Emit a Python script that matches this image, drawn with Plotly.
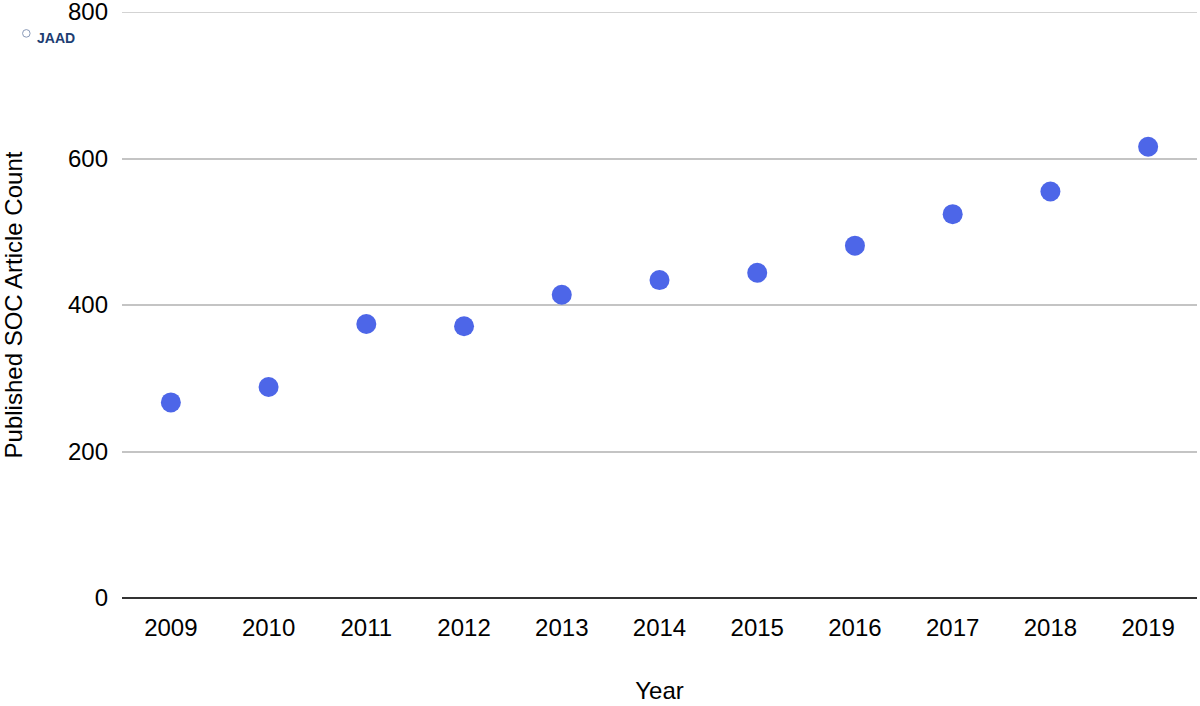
import plotly.graph_objects as go

years = ["2009", "2010", "2011", "2012", "2013", "2014", "2015", "2016", "2017", "2018", "2019"]
counts = [267, 288, 374, 371, 414, 434, 444, 481, 524, 555, 616]
y_ticks = [0, 200, 400, 600, 800]

fig = go.Figure()
fig.add_trace(go.Scatter(
    x=years, y=counts, mode="markers",
    marker=dict(size=20, color="#4d66e8", line=dict(width=0)),
    showlegend=False, cliponaxis=False,
))

font_family = "Liberation Sans, Arial, sans-serif"
grid_color = "#c4c4c4"
fig.update_layout(
    width=1200, height=706,
    margin=dict(l=122, r=3, t=12, b=108),
    plot_bgcolor="white", paper_bgcolor="white",
    font=dict(family=font_family, size=24, color="#000000"),
    xaxis=dict(
        type="category", range=[-0.5, len(years) - 0.5],
        showgrid=False, showline=False, zeroline=False,
        automargin=False,
        ticks="", tickfont=dict(size=24), ticklabelstandoff=13,
        title=dict(text="Year", font=dict(size=24), standoff=42),
    ),
    yaxis=dict(
        range=[0, 800], tickvals=y_ticks, showgrid=True, gridcolor=grid_color,
        gridwidth=1.5, zeroline=True, zerolinecolor="#333333", zerolinewidth=2,
        automargin=False, ticklabeloverflow="allow",
        showline=False, ticks="", tickfont=dict(size=24), ticklabelstandoff=13,
        title=dict(text="Published SOC Article Count", font=dict(size=24), standoff=42),
    ),
)

# top gridline (plotly omits the gridline at the range edge)
fig.add_hline(y=y_ticks[-1], line=dict(color=grid_color, width=1.5), layer="below")

fig.add_annotation(
    x=-0.081, y=0.955, xref="paper", yref="paper", text="<b>JAAD</b>", showarrow=False,
    xanchor="left", yanchor="middle", font=dict(size=14, color="#1d3d72", family=font_family),
)
fig.add_shape(type="circle", xref="paper", yref="paper",
              x0=-0.0925, x1=-0.0855, y0=0.957, y1=0.970,
              line=dict(color="#8a9ab8", width=1), fillcolor="white")

fig.write_html("out.html", config={"displayModeBar": False},
               post_script="document.body.style.margin='0';")
